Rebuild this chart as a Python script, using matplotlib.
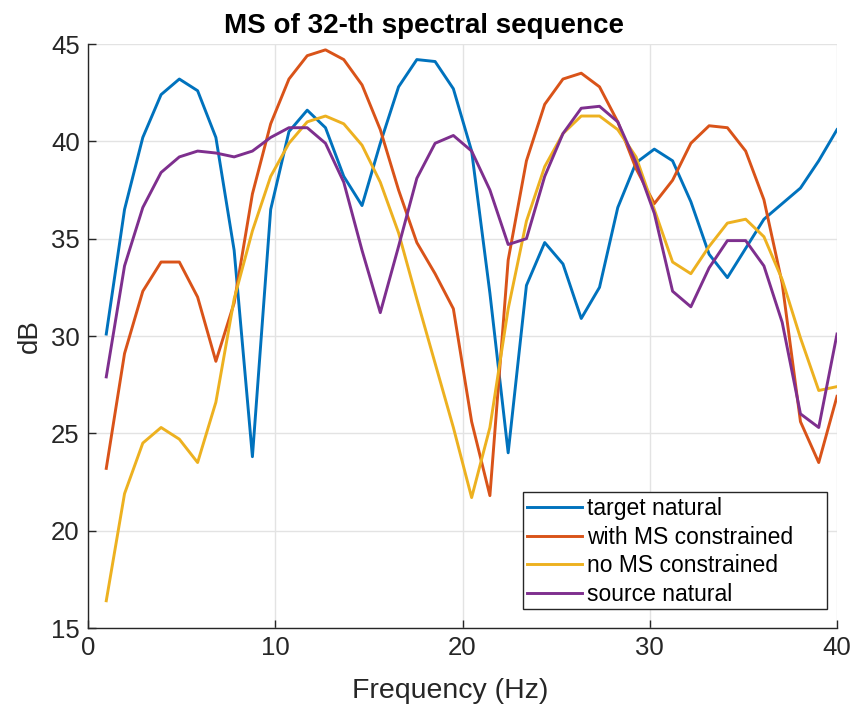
import numpy as np
import matplotlib
matplotlib.use("Agg")
import matplotlib.pyplot as plt
from matplotlib.patches import Rectangle

plt.rcParams['font.family'] = ['Liberation Sans', 'DejaVu Sans']

freq = np.linspace(40/41, 40, 41)

target_natural = [30.1, 36.5, 40.2, 42.4, 43.2, 42.6, 40.2, 34.4, 23.8, 36.5,
                  40.5, 41.6, 40.7, 38.2, 36.7, 39.9, 42.8, 44.2, 44.1, 42.7,
                  39.5, 32.2, 24.0, 32.6, 34.8, 33.7, 30.9, 32.5, 36.6, 38.9,
                  39.6, 39.0, 36.9, 34.2, 33.0, 34.5, 36.0, 36.8, 37.6, 39.0,
                  40.6]
with_ms = [23.2, 29.1, 32.3, 33.8, 33.8, 32.0, 28.7, 31.7, 37.3, 40.9,
           43.2, 44.4, 44.7, 44.2, 42.9, 40.6, 37.5, 34.8, 33.2, 31.4,
           25.6, 21.8, 33.9, 39.0, 41.9, 43.2, 43.5, 42.8, 41.0, 38.6,
           36.8, 38.0, 39.9, 40.8, 40.7, 39.5, 37.0, 32.7, 25.6, 23.5,
           26.9]
no_ms = [16.4, 21.9, 24.5, 25.3, 24.7, 23.5, 26.6, 31.9, 35.4, 38.2,
         39.9, 41.0, 41.3, 40.9, 39.8, 37.9, 35.3, 31.9, 28.6, 25.3,
         21.7, 25.3, 31.4, 35.9, 38.7, 40.4, 41.3, 41.3, 40.6, 39.2,
         36.5, 33.8, 33.2, 34.6, 35.8, 36.0, 35.1, 32.9, 29.9, 27.2,
         27.4]
source_natural = [27.9, 33.6, 36.6, 38.4, 39.2, 39.5, 39.4, 39.2, 39.5, 40.2,
                  40.7, 40.7, 39.9, 37.9, 34.4, 31.2, 34.6, 38.1, 39.9, 40.3,
                  39.5, 37.5, 34.7, 35.0, 38.2, 40.4, 41.7, 41.8, 41.0, 38.9,
                  36.3, 32.3, 31.5, 33.5, 34.9, 34.9, 33.6, 30.7, 26.0, 25.3,
                  30.1]

labels = ['target natural', 'with MS constrained', 'no MS constrained', 'source natural']
colors = ['#0072BD', '#D95319', '#EDB120', '#7E2F8E']
series = [target_natural, with_ms, no_ms, source_natural]

W, H = 851, 704
fig = plt.figure(figsize=(W/100, H/100), dpi=100)
ax = fig.add_axes([88/W, 1-628/H, (837-88)/W, (628-44)/H])

for s, lab, c in zip(series, labels, colors):
    ax.plot(freq, s, color=c, lw=2.1, label=lab)

ax.set_xlim(0, 40)
ax.set_ylim(15, 45)
ax.set_xticks([0, 10, 20, 30, 40])
ax.set_yticks([15, 20, 25, 30, 35, 40, 45])
ax.grid(True, color='#e3e3e3', lw=1.0)
ax.set_axisbelow(True)
for sp in ['top', 'right']:
    ax.spines[sp].set_visible(False)
for sp in ['left', 'bottom']:
    ax.spines[sp].set_color('#262626')
    ax.spines[sp].set_linewidth(1.0)
ax.tick_params(direction='in', length=6, width=1, colors='#262626',
               labelsize=18.5, labelcolor='#262626', pad=6)
ax.set_xlabel('Frequency (Hz)', fontsize=20.5, color='#262626', labelpad=4)
ax.xaxis.set_label_coords((450-88)/(837-88), -0.085)
ax.set_ylabel('dB', fontsize=20, color='#262626', labelpad=6)
ax.set_title('MS of 32-th spectral sequence', fontsize=20, fontweight='bold',
             x=(423.5-88)/(837-88), pad=8)

# legend (frame drawn separately to mimic MATLAB box)
frame = Rectangle((522.7/W, 1-609.3/H), (827.3-522.7)/W, (609.3-491.7)/H,
                  transform=fig.transFigure, facecolor='white',
                  edgecolor='#262626', lw=1.0, zorder=4, clip_on=False)
ax.add_patch(frame)
leg = ax.legend(loc='upper left', bbox_to_anchor=(527/W, 1-497/H),
                bbox_transform=fig.transFigure, fontsize=16.5, frameon=False,
                handlelength=2.4, handletextpad=0.22, borderpad=0,
                labelspacing=0.25, borderaxespad=0)
leg.set_zorder(5)

fig.savefig('out.png', dpi=100)
